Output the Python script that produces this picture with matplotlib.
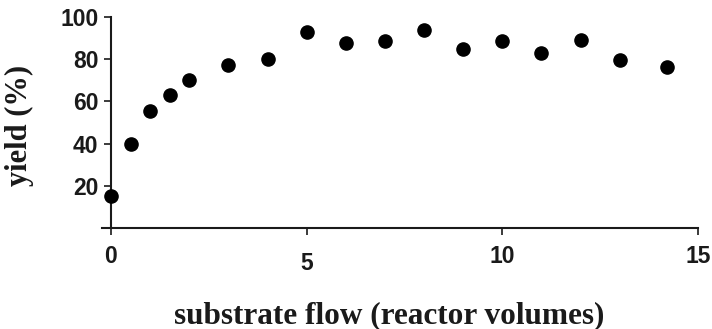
import matplotlib.pyplot as plt
import matplotlib.transforms as mtransforms

# substrate flow (reactor volumes) vs yield (%)
flow = [0, 0.5, 1, 1.5, 2, 3, 4, 5, 6, 7, 8, 9, 10, 11, 12, 13, 14.2]
yield_pct = [15, 40, 55.5, 63, 70, 77.5, 80, 93, 87.5, 88.5, 94, 85, 88.5, 83, 89, 79.5, 76.5]

x_ticks = [0, 5, 10, 15]
y_ticks = [20, 40, 60, 80, 100]

ink = '#1a1a1a'

fig = plt.figure(figsize=(7.12, 3.29), dpi=100)
ax = fig.add_axes([0.1438, 0.307, 0.8365, 0.641])

ax.scatter(flow, yield_pct, s=90, color='black', zorder=3, clip_on=False)

ax.set_xlim(-0.22, 15)
ax.set_ylim(0, 100)

for side in ['top', 'right']:
    ax.spines[side].set_visible(False)
ax.spines['left'].set_position(('data', 0))
for side in ['left', 'bottom']:
    ax.spines[side].set_linewidth(1.5)
    ax.spines[side].set_color(ink)

ax.set_xticks(x_ticks)
ax.set_yticks(y_ticks)
ax.tick_params(axis='both', direction='out', length=5, width=1.2, color=ink,
               labelcolor=ink, labelsize=16.5)
ax.tick_params(axis='x', pad=7)
ax.tick_params(axis='y', pad=4)
for lab in ax.get_xticklabels() + ax.get_yticklabels():
    lab.set_fontfamily('Liberation Sans')
    lab.set_fontweight('bold')

# the "5" label sits a little lower than the others
offset = mtransforms.ScaledTranslation(0, -5 / 72, fig.dpi_scale_trans)
lab5 = ax.get_xticklabels()[1]
lab5.set_transform(lab5.get_transform() + offset)

fig.text(0.546, 0.018, 'substrate flow (reactor volumes)', ha='center', va='baseline',
         fontsize=22.5, fontweight='bold', family='Liberation Serif', color=ink)
fig.text(0.027, 0.62, 'yield (%)', ha='center', va='center', rotation=90,
         fontsize=22, fontweight='bold', family='Liberation Serif', color=ink)

fig.savefig('out.png', dpi=100)
